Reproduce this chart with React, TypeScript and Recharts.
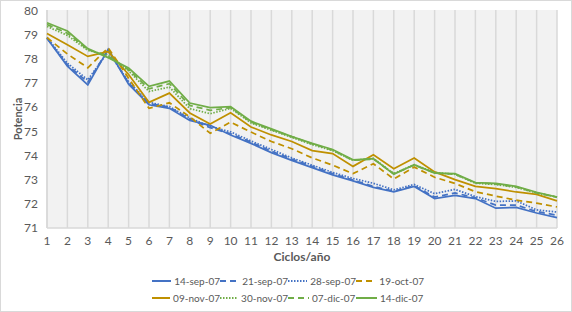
import { LineChart, Line, XAxis, YAxis, CartesianGrid, Legend } from 'recharts'

const ciclos = [1, 2, 3, 4, 5, 6, 7, 8, 9, 10, 11, 12, 13, 14, 15, 16, 17, 18, 19, 20, 21, 22, 23, 24, 25, 26]
const yTicks = [71, 72, 73, 74, 75, 76, 77, 78, 79, 80]

const sep14 = [78.85, 77.7, 76.92, 78.4, 76.95, 76.1, 75.95, 75.45, 75.25, 74.85, 74.5, 74.12, 73.8, 73.5, 73.2, 72.95, 72.68, 72.5, 72.72, 72.22, 72.35, 72.22, 71.82, 71.85, 71.62, 71.43]
const sep21 = [78.85, 77.75, 77.03, 78.38, 77.0, 76.15, 76.0, 75.5, 75.15, 74.9, 74.55, 74.18, 73.85, 73.55, 73.25, 72.98, 72.72, 72.52, 72.75, 72.28, 72.45, 72.25, 71.95, 71.95, 71.68, 71.53]
const sep28 = [78.88, 77.82, 77.13, 78.3, 77.05, 76.2, 76.02, 75.55, 75.2, 74.98, 74.6, 74.25, 73.9, 73.6, 73.3, 73.05, 72.85, 72.58, 72.8, 72.42, 72.6, 72.3, 72.1, 72.12, 71.75, 71.66]
const oct19 = [78.88, 78.2, 77.63, 78.45, 77.2, 75.95, 76.18, 75.6, 74.92, 75.38, 74.97, 74.58, 74.28, 73.9, 73.6, 73.25, 73.66, 73.03, 73.52, 73.1, 72.84, 72.5, 72.32, 72.15, 72.03, 71.87]
const nov09 = [79.05, 78.58, 78.1, 78.3, 77.35, 76.2, 76.58, 75.76, 75.3, 75.77, 75.18, 74.85, 74.58, 74.2, 74.08, 73.55, 74.03, 73.45, 73.9, 73.32, 73.0, 72.72, 72.63, 72.49, 72.39, 72.12]
const nov30 = [79.34, 78.97, 78.35, 78.15, 77.5, 76.65, 76.83, 75.94, 75.73, 75.95, 75.35, 75.05, 74.75, 74.45, 74.2, 73.8, 73.88, 73.25, 73.62, 73.3, 73.22, 72.85, 72.8, 72.68, 72.45, 72.28]
const dic07 = [79.42, 79.06, 78.38, 78.1, 77.55, 76.76, 76.97, 76.07, 75.87, 75.98, 75.38, 75.07, 74.78, 74.48, 74.22, 73.8, 73.85, 73.25, 73.6, 73.28, 73.22, 72.87, 72.82, 72.7, 72.45, 72.28]
const dic14 = [79.49, 79.15, 78.42, 78.05, 77.62, 76.86, 77.08, 76.17, 75.98, 76.02, 75.42, 75.1, 74.78, 74.5, 74.25, 73.82, 73.87, 73.22, 73.62, 73.27, 73.25, 72.88, 72.85, 72.72, 72.48, 72.28]

const BLUE = '#4472c4'
const GOLD = '#bf9000'
const GREEN = '#70ad47'
const DASH = '6 4'
const DOT = '1.5 1.5'

const series = [
  { key: 's1', name: '14-sep-07', values: sep14, color: BLUE, dash: undefined },
  { key: 's2', name: '21-sep-07', values: sep21, color: BLUE, dash: DASH },
  { key: 's3', name: '28-sep-07', values: sep28, color: BLUE, dash: DOT },
  { key: 's4', name: '19-oct-07', values: oct19, color: GOLD, dash: DASH },
  { key: 's5', name: '09-nov-07', values: nov09, color: GOLD, dash: undefined },
  { key: 's6', name: '30-nov-07', values: nov30, color: GREEN, dash: DOT },
  { key: 's7', name: '07-dic-07', values: dic07, color: GREEN, dash: DASH },
  { key: 's8', name: '14-dic-07', values: dic14, color: GREEN, dash: undefined },
]

const data = ciclos.map((c, i) => {
  const row: Record<string, number> = { ciclo: c }
  series.forEach((s) => {
    row[s.key] = s.values[i]
  })
  return row
})

const textColor = '#595959'

function LegendBox() {
  return (
    <div
      style={{
        display: 'grid',
        gridTemplateColumns: 'repeat(4, 68px)',
        lineHeight: '16.6px',
        fontSize: 10,
        color: textColor,
        marginLeft: 152,
      }}
    >
      {series.map((s) => (
        <div key={s.key} style={{ display: 'flex', alignItems: 'center', whiteSpace: 'nowrap' }}>
          <svg width={21} height={8} style={{ marginRight: 3 }}>
            <line x1={0} y1={4} x2={21} y2={4} stroke={s.color} strokeWidth={2} strokeDasharray={s.dash} />
          </svg>
          <span>{s.name}</span>
        </div>
      ))}
    </div>
  )
}

export default function App() {
  return (
    <div style={{ position: 'relative', width: 572, height: 312, fontFamily: 'Lato, "Open Sans", sans-serif', background: '#fff' }}>
      <style>{'body{margin:0}'}</style>
      <LineChart width={572} height={312} data={data} margin={{ top: 10, right: 15, left: 0, bottom: 44 }}>
        <CartesianGrid horizontal={false} stroke="#d9d9d9" strokeWidth={1.5} fill="#f2f2f2" />
        <XAxis
          dataKey="ciclo"
          height={40}
          tickSize={0}
          tickMargin={8}
          axisLine={{ stroke: '#d9d9d9', strokeWidth: 1.5 }}
          tick={{ fill: textColor, fontSize: 12 }}
          interval={0}
          label={{ value: 'Ciclos/año', position: 'insideBottom', offset: 7, fill: textColor, fontSize: 12, fontWeight: 'bold' }}
        />
        <YAxis
          type="number"
          width={47}
          domain={[71, 80.02]}
          allowDataOverflow
          ticks={yTicks}
          interval={0}
          tickSize={0}
          tickMargin={9}
          axisLine={false}
          tick={{ fill: textColor, fontSize: 12 }}
          label={{ value: 'Potencia', angle: -90, position: 'insideLeft', offset: 18, fill: textColor, fontSize: 11, fontWeight: 'bold', style: { textAnchor: 'middle' } }}
        />
        <Legend
          verticalAlign="middle"
          align="center"
          layout="horizontal"
          content={() => <LegendBox />}
          wrapperStyle={{ top: 273, left: 0, width: 572 }}
        />
        {series.map((s) => (
          <Line
            key={s.key}
            dataKey={s.key}
            name={s.name}
            stroke={s.color}
            strokeWidth={1.75}
            strokeDasharray={s.dash}
            dot={false}
            isAnimationActive={false}
          />
        ))}
      </LineChart>
      <div style={{ position: 'absolute', inset: 0, border: '1px solid #d9d9d9', pointerEvents: 'none' }} />
    </div>
  )
}
